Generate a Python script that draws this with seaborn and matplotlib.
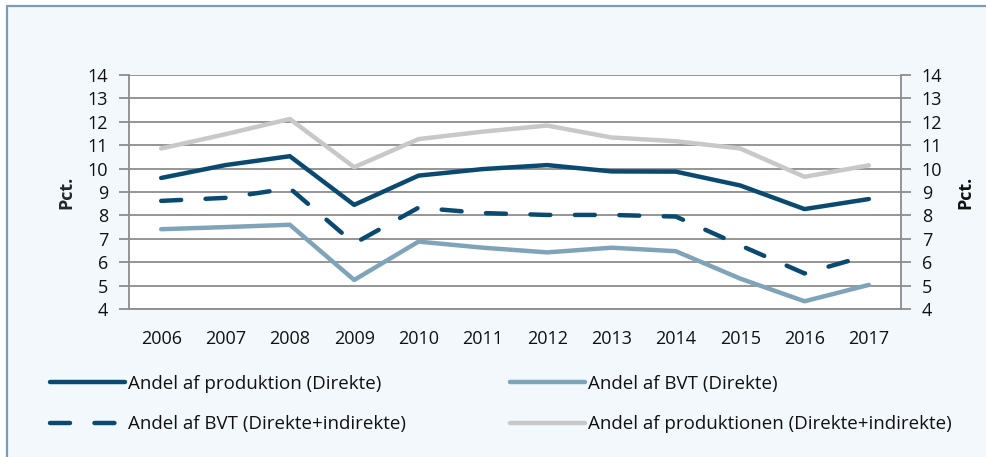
import numpy as np
import pandas as pd
import matplotlib
matplotlib.use('Agg')
import matplotlib.pyplot as plt
from matplotlib.lines import Line2D
from matplotlib.patches import Rectangle
from matplotlib.ticker import FixedLocator, NullFormatter
import seaborn as sns

years = list(range(2006, 2018))
prod_direkte = [9.6, 10.15, 10.53, 8.45, 9.7, 9.98, 10.15, 9.88, 9.87, 9.28, 8.27, 8.7]
bvt_direkte = [7.41, 7.5, 7.6, 5.24, 6.88, 6.62, 6.42, 6.62, 6.47, 5.3, 4.33, 5.03]
bvt_indirekte = [8.62, 8.75, 9.16, 6.8, 8.33, 8.1, 8.02, 8.02, 7.95, 6.72, 5.52, 6.3]
prod_indirekte = [10.86, 11.47, 12.12, 10.06, 11.26, 11.58, 11.84, 11.33, 11.17, 10.86, 9.65, 10.14]

labels = ['Andel af produktion (Direkte)', 'Andel af BVT (Direkte)',
          'Andel af BVT (Direkte+indirekte)', 'Andel af produktionen (Direkte+indirekte)']
colors = ['#0a4a70', '#7fa3b8', '#0a4a70', '#c8c8c8']
styles = ['-', '-', (0, (4.5, 5.5)), '-']
y_ticks = list(range(4, 15))

GRID = '#8c8c8c'
BG = '#f3f8fc'


def main():
    sns.set_theme(style='white')
    plt.rcParams['font.family'] = ['Open Sans', 'DejaVu Sans']
    plt.rcParams['text.color'] = '#111111'
    plt.rcParams['xtick.color'] = '#111111'
    plt.rcParams['ytick.color'] = '#111111'

    fig = plt.figure(figsize=(9.86, 4.57), dpi=100, facecolor='white')
    # bluish panel with a border on left and top
    fig.patches.append(Rectangle((8 / 986, 0), 1, 1 - 7 / 457, transform=fig.transFigure,
                                 facecolor=BG, edgecolor='none', zorder=-5))
    fig.lines.append(Line2D([7 / 986, 7 / 986], [0, 1 - 6 / 457], transform=fig.transFigure,
                            color='#7b9db1', lw=1.6))
    fig.lines.append(Line2D([7 / 986, 1], [1 - 6 / 457, 1 - 6 / 457], transform=fig.transFigure,
                            color='#7b9db1', lw=1.6))

    ax = fig.add_axes([129 / 986, 1 - 309 / 457, 772 / 986, 234 / 457])
    ax.set_facecolor('white')

    series = [prod_direkte, bvt_direkte, bvt_indirekte, prod_indirekte]
    for vals, lab, col, ls in zip(series, labels, colors, styles):
        df = pd.DataFrame({'year': years, 'value': vals})
        sns.lineplot(data=df, x='year', y='value', ax=ax, color=col, linewidth=3.2,
                     linestyle=ls, solid_capstyle='round', dash_capstyle='round',
                     label=lab, zorder=3)
    h, l = ax.get_legend_handles_labels()
    if ax.get_legend():
        ax.get_legend().remove()

    ax.set_xlim(2005.5, 2017.5)
    ax.set_ylim(4, 14)
    ax.set_yticks(y_ticks)
    ax.set_xticks(years)
    ax.xaxis.set_minor_locator(FixedLocator(np.arange(2005.5, 2018, 1)))
    ax.xaxis.set_minor_formatter(NullFormatter())
    ax.tick_params(axis='x', which='major', length=0, pad=15, labelsize=13)
    ax.tick_params(axis='x', which='minor', length=6, width=1.3, color=GRID, direction='out')
    ax.tick_params(axis='y', length=7, width=1.3, color=GRID, direction='out', pad=8,
                   labelsize=13, left=True, right=True, labelright=True)
    ax.grid(axis='y', color=GRID, lw=1.3, zorder=1)
    ax.set_axisbelow(True)
    for side in ['left', 'right', 'bottom']:
        ax.spines[side].set_visible(True)
        ax.spines[side].set_color(GRID)
        ax.spines[side].set_linewidth(1.3)
    ax.spines['top'].set_visible(False)
    ax.set_xlabel('')
    ax.set_ylabel('Pct.', fontsize=13, fontweight='bold', labelpad=9)

    fig.text(965 / 986, 1 - 192 / 457, 'Pct.', rotation=90, fontsize=13, fontweight='bold',
             ha='center', va='center')

    leg_kw = dict(frameon=False, fontsize=13.5, handlelength=4.0, handletextpad=0.16,
                  labelspacing=1.18, borderpad=0, borderaxespad=0, loc='upper left')
    fig.legend([h[0], h[2]], [l[0], l[2]], bbox_to_anchor=(50 / 986, 1 - 375 / 457), **leg_kw)
    fig.legend([h[1], h[3]], [l[1], l[3]], bbox_to_anchor=(510 / 986, 1 - 375 / 457), **leg_kw)

    fig.savefig('out.png', dpi=100, facecolor=fig.get_facecolor())


if __name__ == '__main__':
    main()
